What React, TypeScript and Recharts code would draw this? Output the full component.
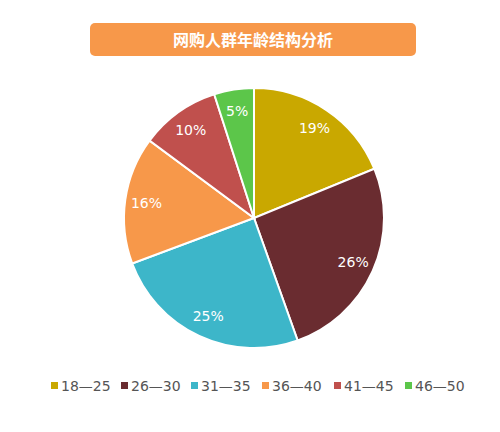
import React from "react";
import { PieChart, Pie, Cell } from "recharts";

const categories = ["18—25", "26—30", "31—35", "36—40", "41—45", "46—50"];
const values = [19, 26, 25, 16, 10, 5];
const colors = ["#C9A800", "#6A2C30", "#3DB6C9", "#F7984A", "#C0504D", "#5CC64A"];
const title = "网购人群年龄结构分析";

const data = categories.map((name, i) => ({ name, value: values[i] }));

const RAD = Math.PI / 180;

const renderLabel = (props: any) => {
  const { cx, cy, midAngle, outerRadius, value } = props;
  const r = outerRadius * 0.835;
  const x = cx + r * Math.cos(-midAngle * RAD);
  const y = cy + r * Math.sin(-midAngle * RAD);
  return (
    <text
      x={x}
      y={y}
      fill="#ffffff"
      textAnchor="middle"
      dominantBaseline="central"
      fontSize={14}
      fontFamily="DejaVu Sans, Verdana, sans-serif"
    >
      {value}%
    </text>
  );
};

const legendX = [51, 121, 191, 262, 334, 405];

export default function App() {
  return (
    <div style={{ position: "absolute", left: 0, top: 0, width: 500, height: 432, background: "#fff" }}>
      <div
        style={{
          position: "absolute",
          left: 90,
          top: 23,
          width: 326,
          height: 33,
          background: "#F7984A",
          borderRadius: 5,
          color: "#fff",
          fontFamily: "'Noto Sans CJK SC', sans-serif",
          fontWeight: 700,
          fontSize: 16,
          lineHeight: "33px",
          textAlign: "center",
        }}
      >
        {title}
      </div>
      <PieChart
        width={500}
        height={432}
        margin={{ top: 0, right: 0, bottom: 0, left: 0 }}
        style={{ position: "absolute", left: 0, top: 0 }}
      >
        <Pie
          data={data}
          dataKey="value"
          nameKey="name"
          cx={254}
          cy={218}
          outerRadius={130}
          startAngle={90}
          endAngle={-270}
          stroke="#ffffff"
          strokeWidth={2}
          label={renderLabel}
          labelLine={false}
          isAnimationActive={false}
        >
          {data.map((d, i) => (
            <Cell key={d.name} fill={colors[i]} />
          ))}
        </Pie>
        {categories.map((c, i) => (
          <g key={c}>
            <rect x={legendX[i]} y={382} width={7} height={7} fill={colors[i]} />
            <text
              x={legendX[i] + 10}
              y={386}
              dominantBaseline="central"
              fontSize={14}
              fill="#555"
              fontFamily="DejaVu Sans, Verdana, sans-serif"
            >
              {c}
            </text>
          </g>
        ))}
      </PieChart>
    </div>
  );
}
